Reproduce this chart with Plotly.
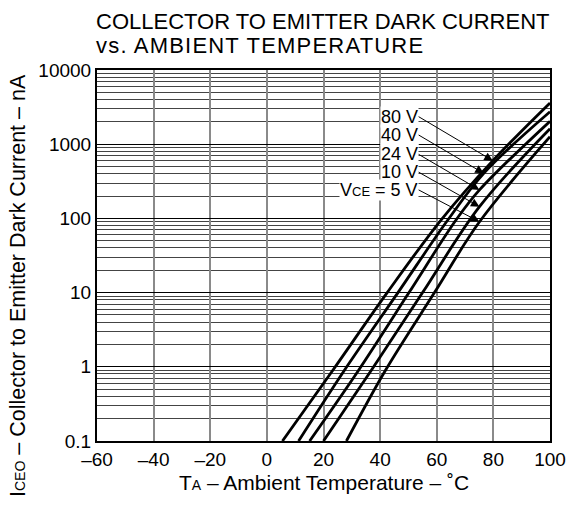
import numpy as np
import plotly.graph_objects as go

# ---------------- data ----------------
title_line1 = "COLLECTOR TO EMITTER DARK CURRENT"
title_line2 = "vs. AMBIENT TEMPERATURE"
x_ticks = [-60, -40, -20, 0, 20, 40, 60, 80, 100]
y_ticks = [0.1, 1, 10, 100, 1000, 10000]
y_tick_text = ["0.1", "1", "10", "100", "1000", "10000"]
x_dark_grid = [-40, 0, 40, 80]

t_80v = [5.5, 23.3, 42.5, 61.5, 79.8, 100]
i_80v = [0.1, 0.9, 10, 95, 600, 3600]
t_40v = [11.2, 27.4, 46.3, 63.9, 76.6, 100]
i_40v = [0.1, 0.9, 10, 95, 405, 2740]
t_24v = [15.1, 32.4, 50.2, 66.8, 75.1, 100]
i_24v = [0.1, 0.9, 10, 95, 242, 2040]
t_10v = [20.0, 36.9, 55.0, 75.1, 100]
i_10v = [0.1, 0.9, 10, 144, 1620]
t_5v = [28.1, 41.9, 59.2, 75.1, 100]
i_5v = [0.1, 0.9, 10, 90, 1260]

series_names = ["80 V", "40 V", "24 V", "10 V", "5 V"]
series_t = [t_80v, t_40v, t_24v, t_10v, t_5v]
series_i = [i_80v, i_40v, i_24v, i_10v, i_5v]
label_texts = ["80 V", "40 V", "24 V", "10 V",
               "V<span style='font-size:13px'>CE</span> = 5 V"]
arrow_t = [79.8, 76.6, 75.1, 75.1, 75.1]
label_i = [2350, 1330, 730, 420, 242]
label_t = 53.6

FONT = "Liberation Sans, Arial, Helvetica, sans-serif"

fig = go.Figure()
for name, t, i in zip(series_names, series_t, series_i):
    fig.add_trace(go.Scatter(x=t, y=i, mode="lines", name=name,
                             line=dict(color="black", width=2.8, shape="spline", smoothing=1.0),
                             showlegend=False, hoverinfo="skip"))

shapes = []
for xv in x_dark_grid:
    shapes.append(dict(type="line", xref="x", yref="paper", x0=xv, x1=xv, y0=0, y1=1,
                       line=dict(color="black", width=1.2), layer="below"))

annotations = []
for txt, t, i, at, li in zip(label_texts, series_t, series_i, arrow_t, label_i):
    tip = np.interp(at, t, np.log10(i))
    annotations.append(dict(x=at, y=tip, xref="x", yref="y",
                            ax=label_t, ay=np.log10(li), axref="x", ayref="y",
                            text=txt, showarrow=True, arrowhead=2, arrowsize=1.7,
                            arrowwidth=1, arrowcolor="black", standoff=0,
                            xanchor="right", yanchor="middle", bgcolor="white",
                            borderpad=0, font=dict(size=18, color="black", family=FONT)))

annotations.append(dict(text=title_line1, xref="paper", yref="paper",
                        x=-0.004, y=(441 - 21) / 371, xanchor="left", yanchor="middle",
                        showarrow=False, borderpad=0,
                        font=dict(size=22, color="black", family=FONT)))
annotations.append(dict(text="<span style='letter-spacing:1.2px'>" + title_line2 + "</span>",
                        xref="paper", yref="paper",
                        x=-0.004, y=(441 - 46) / 371, xanchor="left", yanchor="middle",
                        showarrow=False, borderpad=0,
                        font=dict(size=22, color="black", family=FONT)))
annotations.append(dict(text="T<span style='font-size:14px'>A</span> – Ambient Temperature – ˚C",
                        xref="paper", yref="paper", x=0.5, y=(441 - 482) / 371,
                        xanchor="center", yanchor="middle", showarrow=False,
                        font=dict(size=21, color="black", family=FONT)))
annotations.append(dict(text="I<span style='font-size:14px'>CEO</span> – Collector to Emitter Dark Current – nA",
                        xref="paper", yref="paper", x=(18 - 97) / 453, y=(441 - 286) / 371,
                        xanchor="center", yanchor="middle", textangle=-90, showarrow=False,
                        font=dict(size=21.5, color="black", family=FONT)))

fig.update_layout(
    width=569, height=510,
    margin=dict(l=97, r=19, t=70, b=69, autoexpand=False),
    paper_bgcolor="white", plot_bgcolor="white",
    font=dict(family=FONT, size=19, color="black"),
    shapes=shapes, annotations=annotations,
    xaxis=dict(range=[-60, 100], tickmode="array", tickvals=x_ticks,
               ticktext=[str(v).replace("-", "–") for v in x_ticks],
               showgrid=True, gridcolor="#8a8a8a", gridwidth=1.5, zeroline=False,
               showline=True, linecolor="black", linewidth=2, mirror=True,
               ticks="", tickfont=dict(size=19), automargin=False),
    yaxis=dict(type="log", range=[-1, 4], tickmode="array", tickvals=y_ticks,
               ticktext=y_tick_text, showgrid=True, gridcolor="black", gridwidth=1,
               minor=dict(dtick="D1", showgrid=True, gridcolor="#444", gridwidth=1, ticks=""),
               zeroline=False, showline=True, linecolor="black", linewidth=2, mirror=True,
               ticks="", tickfont=dict(size=19), automargin=False),
)

fig.write_html("out.html")
